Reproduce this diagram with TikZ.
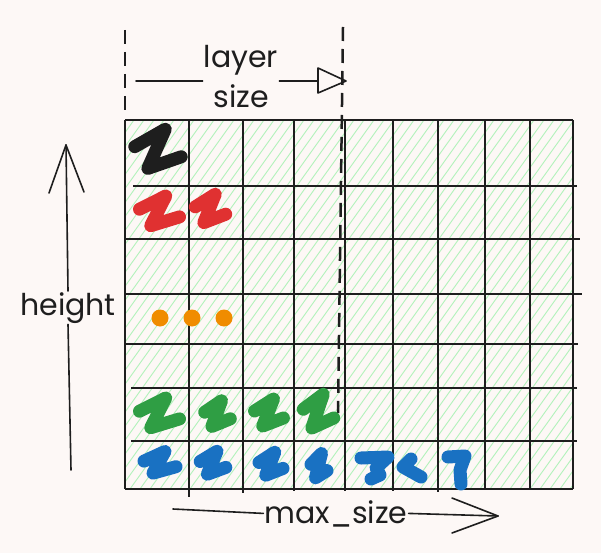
\documentclass[tikz,border=0pt]{standalone}
\usepackage{fontspec}
\setmainfont{Poppins}
\definecolor{bg}{HTML}{FDF8F6}
\definecolor{ink}{HTML}{1E1E1E}
\definecolor{hatchc}{HTML}{B2F2BB}
\definecolor{zred}{HTML}{E03131}
\definecolor{zorange}{HTML}{F08C00}
\definecolor{zgreen}{HTML}{2F9E44}
\definecolor{zblue}{HTML}{1971C2}
\newcommand\zzglyph[5]{%
  \begin{scope}[shift={(#1,#2)},xscale=#3,yscale=#4]
    \draw[zstroke,#5] (-0.8,-0.15) -- (0.25,-0.75) -- (-0.35,0.6) -- (0.8,0.2);
  \end{scope}}
\begin{document}
\begin{tikzpicture}[x=1pt,y=-1pt,
  gridline/.style={ink,line width=1.8pt},
  dashline/.style={ink,line width=2.5pt,dash pattern=on 14pt off 8pt},
  arrowline/.style={ink,line width=1.6pt,line cap=round,line join=round},
  zstroke/.style={line width=13pt,line cap=round,line join=round},
  label/.style={ink,font=\fontsize{30}{40}\selectfont,inner sep=1pt},
  hatch/.style={hatchc,line width=0.9pt}]
\fill[bg] (0,0) rectangle (601,553);
\useasboundingbox (0,0) rectangle (601,553);
% hatching
\begin{scope}
  \clip (125,120) rectangle (573,489);
  \foreach \c in {-140,-130,...,580} {\draw[hatch] (\c,489) -- (\c+264,120);}
\end{scope}
% grid verticals
\draw[gridline] (125,120) -- (125,489);
\draw[gridline] (189,120) -- (189,497);
\draw[gridline] (243,120) -- (243,493);
\draw[gridline] (294,120) -- (294,491);
\draw[gridline] (345,120) -- (345,491);
\draw[gridline] (393,120) -- (393,491);
\draw[gridline] (438,120) -- (438,492);
\draw[gridline] (485,120) -- (485,489);
\draw[gridline] (530,120) -- (530,489);
\draw[gridline] (573,120) -- (573,489);
% grid horizontals
\draw[gridline] (125,120) -- (573,120);
\draw[gridline] (133,186) -- (577,186);
\draw[gridline] (125,239) -- (580,239);
\draw[gridline] (125,294) -- (582,294);
\draw[gridline] (125,344) -- (578,344);
\draw[gridline] (131,388) -- (577,388);
\draw[gridline] (131,441) -- (577,441);
\draw[gridline] (125,489) -- (573,489);
% dashed guides
\coordinate (dl1) at (125,30);
\coordinate (dl2) at (125,114);
\coordinate (dr1) at (343,27);
\coordinate (dr2) at (338,413);
\draw[dashline] (dl1) -- (dl2);
\draw[dashline] (dr1) -- (dr2);
% layer size arrow
\node[label,align=center,anchor=base] (ls) at (241,108) {layer\\size};
\coordinate (lsa) at (136,81);
\coordinate (lsb) at (318,81);
\draw[arrowline] (lsa) -- (ls.west |- lsa);
\draw[arrowline] (ls.east |- lsb) -- (lsb);
\draw[arrowline] (318,68) -- (346,81) -- (318,93) -- cycle;
% height arrow
\node[label,anchor=base] (ht) at (68,315) {height};
\coordinate (hb) at (71,470);
\coordinate (htip) at (66,145);
\draw[arrowline] (hb) -- (ht.south);
\draw[arrowline] (ht.north) -- (htip);
\draw[arrowline] (49,193) -- (htip) -- (84,192);
% max_size arrow
\node[label,anchor=base] (ms) at (336,523) {max\_size};
\coordinate (msa) at (173,509);
\coordinate (mstip) at (498,516);
\draw[arrowline] (msa) -- (ms.west);
\draw[arrowline] (ms.east) -- (mstip);
\draw[arrowline] (452,498) -- (mstip) -- (452,533);
% glyphs
\zzglyph{158}{151}{29}{29}{ink}
\zzglyph{159.5}{212.5}{25}{22}{zred}
\zzglyph{210.5}{210}{19}{21}{zred}
\fill[zorange] (160,318) circle (8.5);
\fill[zorange] (192,318) circle (8.5);
\fill[zorange] (224,318) circle (8.5);
\zzglyph{159.5}{414.5}{25}{22}{zgreen}
\zzglyph{217.5}{415}{16}{19}{zgreen}
\zzglyph{269}{414}{18}{20}{zgreen}
\zzglyph{318.5}{413}{19}{25}{zgreen}
\zzglyph{160}{463.5}{20}{16}{zblue}
\zzglyph{213}{464}{16}{17}{zblue}
\zzglyph{271}{465}{15}{17}{zblue}
\zzglyph{319}{467}{10}{18}{zblue}
\draw[zstroke,zblue] (361,458) -- (388,457) -- (376,468) -- (380,475) -- (371,479);
\draw[zstroke,zblue] (411,459) -- (403,467) -- (421,477);
\draw[zstroke,zblue] (448,457) -- (465,456) -- (460,470) -- (461,484);
\end{tikzpicture}
\end{document}
